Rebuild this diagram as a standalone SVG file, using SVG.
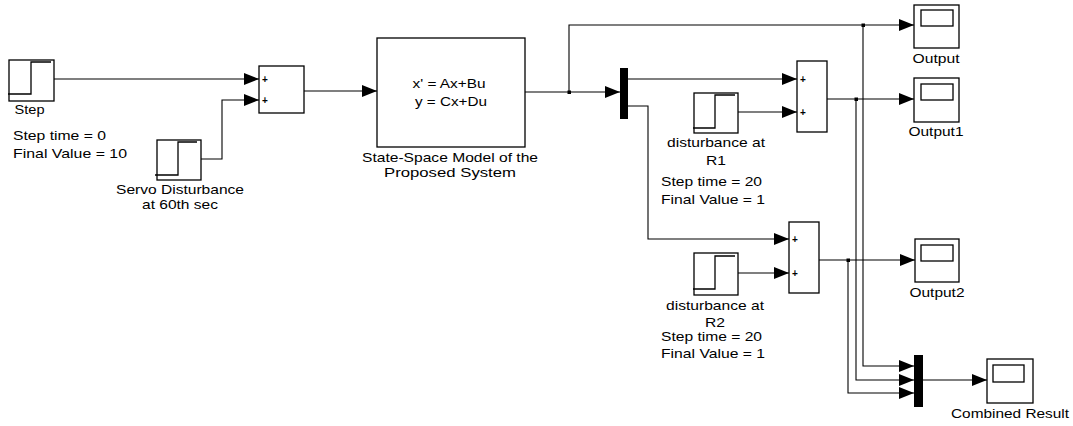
<svg xmlns="http://www.w3.org/2000/svg" width="1073" height="426" viewBox="0 0 1073 426">
<style>
.blk{fill:#fff;stroke:#000;stroke-width:1.3}
.stp{fill:none;stroke:#000;stroke-width:1.3}
.bar{fill:#000;stroke:none}
.wa{fill:none;stroke:#000;stroke-width:1.1;marker-end:url(#ar)}
.t{font-family:"Liberation Sans",Arial,sans-serif;font-size:13.5px;fill:#000}
.c{text-anchor:middle}
.pl{font-family:"Liberation Sans",Arial,sans-serif;font-size:10px;font-weight:bold;fill:#000;text-anchor:middle}
</style>
<defs>
<marker id="ar" markerUnits="userSpaceOnUse" markerWidth="15" markerHeight="12" refX="15" refY="6" orient="auto">
<path d="M0,0 L15,6 L0,12 Z" fill="#000"/>
</marker>
</defs>
<rect width="1073" height="426" fill="#fff"/>
<g id="connectors">
<path class="wa" d="M54,79 H259"/>
<path class="wa" d="M201,159 H222 V100 H259"/>
<path class="wa" d="M304,91 H377"/>
<path class="wa" d="M525,92 H620"/>
<path class="wa" d="M569,92 V25 H914"/>
<path class="wa" d="M628,79 H797"/>
<path class="wa" d="M628,106 H648 V239 H789"/>
<path class="wa" d="M738,112 H797"/>
<path class="wa" d="M738,273 H789"/>
<path class="wa" d="M827,99 H914"/>
<path class="wa" d="M856,99 V380 H914"/>
<path class="wa" d="M863,25 V366 H914"/>
<path class="wa" d="M819,260 H915"/>
<path class="wa" d="M848,260 V393 H914"/>
<path class="wa" d="M923,380 H987"/>
<rect x="567.5" y="90.5" width="3.5" height="3.5" fill="#000"/>
<rect x="861.5" y="23.5" width="3.5" height="3.5" fill="#000"/>
<rect x="854.5" y="97.5" width="3.5" height="3.5" fill="#000"/>
<rect x="846.5" y="258.5" width="3.5" height="3.5" fill="#000"/>
</g>
<g id="step">
<rect class="blk" x="9" y="60" width="45" height="41"/>
<polyline class="stp" points="8,94 31,94 31,62 51,62"/>
<text class="t c" x="29.5" y="114" textLength="30" lengthAdjust="spacingAndGlyphs">Step</text>
<text class="t" x="13" y="140" textLength="93" lengthAdjust="spacingAndGlyphs">Step time = 0</text>
<text class="t" x="13" y="158" textLength="114" lengthAdjust="spacingAndGlyphs">Final Value = 10</text>
</g>
<g id="servo">
<rect class="blk" x="157" y="140" width="44" height="40"/>
<polyline class="stp" points="155,175 178,175 178,142 197,142"/>
<text class="t c" x="180" y="194" textLength="128" lengthAdjust="spacingAndGlyphs">Servo Disturbance</text>
<text class="t c" x="180" y="209" textLength="76" lengthAdjust="spacingAndGlyphs">at 60th sec</text>
</g>
<g id="sum1">
<rect class="blk" x="259" y="66" width="45" height="47"/>
<text class="pl" x="265" y="82.5">+</text>
<text class="pl" x="265" y="103.5">+</text>
</g>
<g id="statespace">
<rect class="blk" x="377" y="38" width="148" height="109"/>
<text class="t c" x="449" y="88" textLength="73" lengthAdjust="spacingAndGlyphs">x' = Ax+Bu</text>
<text class="t c" x="451" y="106" textLength="72" lengthAdjust="spacingAndGlyphs">y = Cx+Du</text>
<text class="t c" x="450" y="162" textLength="176" lengthAdjust="spacingAndGlyphs">State-Space Model of the</text>
<text class="t c" x="450" y="177" textLength="132" lengthAdjust="spacingAndGlyphs">Proposed System</text>
</g>
<g id="mux1">
<rect class="bar" x="620" y="68" width="8" height="51"/>
</g>
<g id="distR1">
<rect class="blk" x="694" y="93" width="44" height="40"/>
<polyline class="stp" points="693,128 715,128 715,95 735,95"/>
<text class="t c" x="716" y="147" textLength="98" lengthAdjust="spacingAndGlyphs">disturbance at</text>
<text class="t c" x="716" y="165" textLength="20" lengthAdjust="spacingAndGlyphs">R1</text>
<text class="t" x="661" y="186" textLength="101" lengthAdjust="spacingAndGlyphs">Step time = 20</text>
<text class="t" x="661" y="204" textLength="104" lengthAdjust="spacingAndGlyphs">Final Value = 1</text>
</g>
<g id="sum2">
<rect class="blk" x="797" y="61" width="30" height="71"/>
<text class="pl" x="803" y="82.5">+</text>
<text class="pl" x="803" y="115.5">+</text>
</g>
<g id="distR2">
<rect class="blk" x="694" y="253" width="44" height="42"/>
<polyline class="stp" points="693,289 715,289 715,256 735,256"/>
<text class="t c" x="715" y="310" textLength="98" lengthAdjust="spacingAndGlyphs">disturbance at</text>
<text class="t c" x="715" y="327" textLength="20" lengthAdjust="spacingAndGlyphs">R2</text>
<text class="t" x="661" y="341" textLength="101" lengthAdjust="spacingAndGlyphs">Step time = 20</text>
<text class="t" x="661" y="358" textLength="104" lengthAdjust="spacingAndGlyphs">Final Value = 1</text>
</g>
<g id="sum3">
<rect class="blk" x="789" y="222" width="30" height="71"/>
<text class="pl" x="795" y="242.5">+</text>
<text class="pl" x="795" y="276.5">+</text>
</g>
<g id="output">
<rect class="blk" x="914" y="5" width="45" height="43"/>
<rect class="blk" x="921" y="10" width="32" height="16"/>
<text class="t c" x="936" y="63" textLength="47" lengthAdjust="spacingAndGlyphs">Output</text>
</g>
<g id="output1">
<rect class="blk" x="914" y="78" width="45" height="44"/>
<rect class="blk" x="921" y="84" width="32" height="16"/>
<text class="t c" x="936" y="136" textLength="55" lengthAdjust="spacingAndGlyphs">Output1</text>
</g>
<g id="output2">
<rect class="blk" x="915" y="239" width="44" height="43"/>
<rect class="blk" x="921" y="245" width="32" height="16"/>
<text class="t c" x="937" y="297" textLength="55" lengthAdjust="spacingAndGlyphs">Output2</text>
</g>
<g id="mux2">
<rect class="bar" x="914" y="355" width="9" height="52"/>
</g>
<g id="combined">
<rect class="blk" x="987" y="359" width="46" height="44"/>
<rect class="blk" x="993" y="365" width="31" height="17"/>
<text class="t c" x="1010" y="418" textLength="118" lengthAdjust="spacingAndGlyphs">Combined Result</text>
</g>
</svg>
